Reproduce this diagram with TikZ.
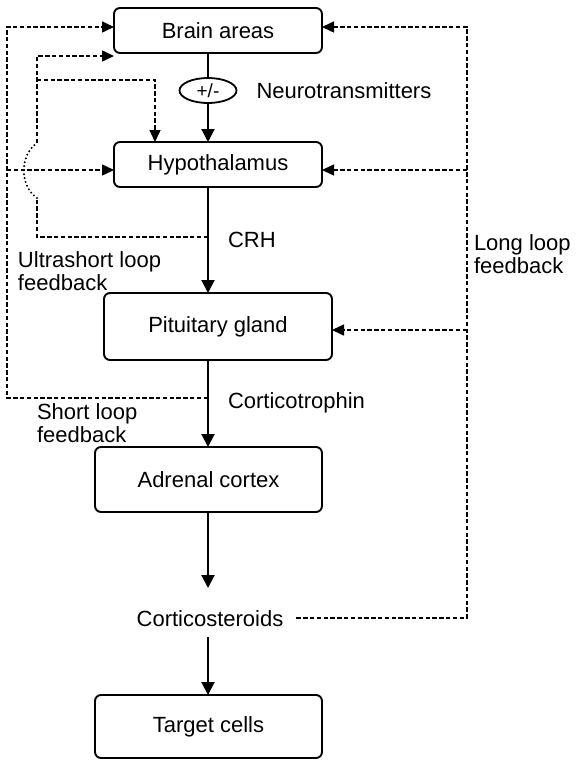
\documentclass[tikz,border=0pt]{standalone}
\usepackage{fontspec}
\setmainfont{Liberation Sans}
\usepackage{tikz}
\usetikzlibrary{positioning,arrows.meta,shapes.geometric,calc}
\tikzset{
  box/.style    = {rectangle, draw, rounded corners=3pt, line width=0.95pt,
                   inner sep=0pt, outer sep=0pt, align=center},
  pmsign/.style = {ellipse, draw, line width=0.9pt, inner sep=0pt, outer sep=0pt,
                   minimum width=28.5pt, minimum height=12.5pt,
                   font=\fontsize{9.5}{10}\selectfont},
  lbl/.style    = {inner sep=0pt, outer sep=0pt, align=left},
  link/.style   = {line width=1pt},
  arr/.style    = {link, -{Triangle[length=6.5pt,width=6.5pt]}},
  fb/.style     = {line width=0.75pt, dash pattern=on 2.2pt off 1.2pt},
  fbarr/.style  = {fb, -{Triangle[length=6pt,width=5.5pt]}},
  hop/.style    = {line width=1.1pt, line cap=round, dash pattern=on 0pt off 2pt}
}

\begin{document}
\begin{tikzpicture}[font=\fontsize{11}{11.5}\selectfont]
  \useasboundingbox (0,0) rectangle (288pt,-380pt);
  % main chain
  \node[box, minimum width=104pt, minimum height=22.5pt] (brain) at (109pt,-15.25pt) {Brain areas};
  \node[pmsign, below=12.5pt of brain.south, xshift=-5pt] (pm) {+/-};
  \node[box, below=44.5pt of brain, minimum width=104pt, minimum height=22.5pt] (hypo) {Hypothalamus};
  \node[box, below=53pt of hypo, minimum width=114pt, minimum height=33.5pt] (pit) {Pituitary gland};
  \node[box, below=43.5pt of pit, xshift=-4.75pt, minimum width=113.5pt, minimum height=32.5pt] (adr) {Adrenal cortex};
  \node[lbl, below=49pt of adr, xshift=0.75pt, inner xsep=6.5pt, text height=8pt, text depth=0pt] (cort) {Corticosteroids};
  \node[box, below=34.5pt of cort, xshift=-0.75pt, minimum width=113.5pt, minimum height=31.5pt] (target) {Target cells};
  \draw[link] (brain.south -| pm) -- (pm);
  \draw[arr] (pm) -- (hypo.north -| pm);
  \draw[arr] (hypo.south -| pm) -- (pit.north -| pm);
  \draw[arr] (pit.south -| pm) -- (adr.north -| pm);
  \draw[arr, shorten >=11pt] (adr.south -| pm) -- (cort.north -| pm);
  \draw[arr, shorten <=5.5pt] (cort.south -| pm) -- (target.north -| pm);
  % rails and ends of the feedback lines
  \coordinate (outrail) at (3.5pt,0);
  \coordinate (inrail) at (18.5pt,0);
  \coordinate (longrail) at (233.5pt,0);
  \coordinate (usj) at ($(hypo.south -| pm)+(0,-25pt)$);
  \coordinate (slj) at ($(pit.south -| pm)+(0,-19pt)$);
  \coordinate (brainL) at ([yshift=1.75pt]brain.west);
  \coordinate (brainLL) at ([yshift=-1.5pt]brain.south west);
  \coordinate (hypoL) at ([yshift=-2.75pt]hypo.west);
  \coordinate (brainR) at ([yshift=1.75pt]brain.east);
  \coordinate (hypoR) at ([yshift=-2.75pt]hypo.east);
  \coordinate (pitR) at ([yshift=-1.75pt]pit.east);
  \coordinate (usbranch) at ([xshift=20.5pt,yshift=-13.5pt]brain.south west);
  \coordinate (hoplo) at ($(inrail |- hypoL)+(0,-14pt)$);
  \coordinate (hophi) at ($(inrail |- hypoL)+(0,13.5pt)$);
  % short loop
  \draw[fbarr] (slj) -| (outrail |- brainL) -- (brainL);
  \draw[fbarr] (outrail |- hypoL) -- (hypoL);
  % ultrashort loop
  \draw[fb] (usj) -| (hoplo);
  \draw[hop] (hoplo) to[bend left=55] (hophi);
  \draw[fbarr] (hophi) |- (brainLL);
  \draw[fbarr] (inrail |- usbranch) -| (hypo.north -| usbranch);
  % long loop
  \draw[fbarr] (cort.east) -| (longrail |- brainR) -- (brainR);
  \draw[fbarr] (longrail |- hypoR) -- (hypoR);
  \draw[fbarr] (longrail |- pitR) -- (pitR);
  % labels
  \node[lbl, right=10pt of pm] (nt) {Neurotransmitters};
  \node[lbl, right=10pt of usj, yshift=-1.5pt] (crh) {CRH};
  \node[lbl, right=10pt of slj, yshift=-2.5pt] (ctr) {Corticotrophin};
  \node[lbl, anchor=north west] (uslbl) at ($(outrail |- usj)+(5.5pt,-7.5pt)$) {Ultrashort loop\\feedback};
  \node[lbl, anchor=north west] (slbl) at ($(inrail |- slj)+(0,-3pt)$) {Short loop\\feedback};
  \node[lbl, anchor=north west] (llbl) at ($(longrail |- hypoR)+(3.5pt,-32.5pt)$) {Long loop\\feedback};
\end{tikzpicture}
\end{document}
